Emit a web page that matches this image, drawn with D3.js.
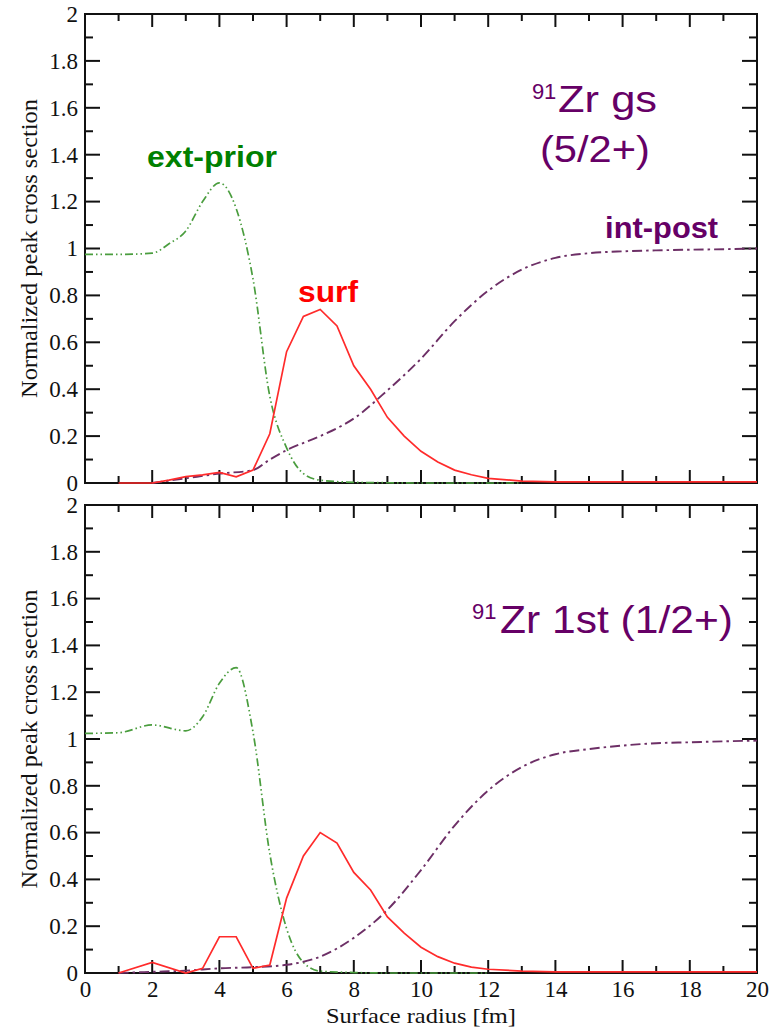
<!DOCTYPE html>
<html>
<head>
<meta charset="utf-8">
<script src="https://cdn.jsdelivr.net/npm/d3@7"></script>
<style>
  body { margin: 0; background: #fff; }
  .domain { display: none; }
  .axis text { font-family: "Liberation Serif", "Times New Roman", serif; font-size: 23px; fill: #111; }
  .serif { font-family: "Liberation Serif", "Times New Roman", serif; }
  .sans { font-family: "Liberation Sans", Arial, sans-serif; }
</style>
</head>
<body>
<div id="chart"></div>
<script>
// ---- data ----
var xMajorTicks = [0, 2, 4, 6, 8, 10, 12, 14, 16, 18, 20];
var xMinorTicks = [1, 3, 5, 7, 9, 11, 13, 15, 17, 19];
var yMajorTicks = [0, 0.2, 0.4, 0.6, 0.8, 1, 1.2, 1.4, 1.6, 1.8, 2];
var yMinorTicks = [0.1, 0.3, 0.5, 0.7, 0.9, 1.1, 1.3, 1.5, 1.7, 1.9];

// top panel: 91Zr gs (5/2+)
var extPriorTopR = [0, 1, 2, 2.5, 3, 3.5, 4, 4.5, 5, 5.5, 6, 6.5, 7, 8, 9, 10, 11, 12, 13];
var extPriorTopV = [0.975, 0.975, 0.98, 1.02, 1.075, 1.2, 1.28, 1.17, 0.87, 0.37, 0.15, 0.04, 0.012, 0.003, 0.001, 0, 0, 0, 0];
var surfTopR = [1, 2, 2.5, 3, 3.5, 4, 4.5, 5, 5.5, 6, 6.5, 7, 7.5, 8, 8.5, 9, 9.5, 10, 10.5, 11, 11.5, 12, 13, 14, 15, 16, 17, 18, 19, 20];
var surfTopV = [0, 0, 0.012, 0.027, 0.035, 0.045, 0.026, 0.055, 0.21, 0.56, 0.71, 0.74, 0.67, 0.5, 0.4, 0.28, 0.2, 0.135, 0.09, 0.055, 0.035, 0.02, 0.008, 0.005, 0.005, 0.005, 0.005, 0.005, 0.005, 0.005];
var intPostTopR = [2, 3, 4, 5, 5.5, 6, 7, 8, 9, 10, 11, 12, 13, 14, 15, 16, 17, 18, 19, 20];
var intPostTopV = [0, 0.02, 0.04, 0.055, 0.1, 0.14, 0.2, 0.275, 0.395, 0.53, 0.69, 0.82, 0.91, 0.96, 0.98, 0.988, 0.992, 0.995, 0.997, 1.0];

// bottom panel: 91Zr 1st (1/2+)
var extPriorBotR = [0, 1, 2, 3, 3.5, 4, 4.5, 5, 5.5, 6, 6.5, 7, 8, 9, 10, 11, 12];
var extPriorBotV = [1.024, 1.027, 1.06, 1.035, 1.095, 1.238, 1.305, 1.03, 0.51, 0.19, 0.045, 0.008, 0.002, 0, 0, 0, 0];
var surfBotR = [1, 2, 3, 3.5, 4, 4.5, 5, 5.5, 6, 6.5, 7, 7.5, 8, 8.5, 9, 9.5, 10, 10.5, 11, 11.5, 12, 13, 14, 15, 16, 17, 18, 19, 20];
var surfBotV = [0, 0.045, 0, 0.02, 0.155, 0.155, 0.02, 0.034, 0.32, 0.5, 0.6, 0.555, 0.43, 0.355, 0.24, 0.17, 0.11, 0.07, 0.042, 0.025, 0.016, 0.008, 0.005, 0.005, 0.005, 0.005, 0.005, 0.005, 0.005];
var intPostBotR = [1, 2, 3, 4, 5, 6, 7, 8, 9, 10, 11, 12, 13, 14, 15, 16, 17, 18, 19, 20];
var intPostBotV = [0, 0.005, 0.01, 0.02, 0.025, 0.035, 0.07, 0.15, 0.27, 0.44, 0.63, 0.78, 0.88, 0.935, 0.957, 0.972, 0.982, 0.986, 0.99, 0.993];

var green = "#4a9d3e", red = "#ff2b2b", purple = "#6d2f66";

var svg = d3.select("#chart").append("svg")
    .attr("width", 777)
    .attr("height", 1027);

var left = 85, right = 757;

function drawPanel(p) {
    var x = d3.scaleLinear().domain([0, 20]).range([left, right]);
    var y = d3.scaleLinear().domain([0, 2]).range([p.bottom, p.top]);
    var g = svg.append("g");

    // tick labels through d3 axes
    g.append("g").attr("class", "axis")
        .attr("transform", "translate(0," + p.bottom + ")")
        .call(d3.axisBottom(x).tickValues(p.xLabels ? xMajorTicks : []).tickSize(0).tickPadding(8)
            .tickFormat(d3.format("d")));
    g.append("g").attr("class", "axis")
        .attr("transform", "translate(" + left + ",0)")
        .call(d3.axisLeft(y).tickValues(yMajorTicks).tickSize(0).tickPadding(7)
            .tickFormat(function(d) { return String(+d.toFixed(1)); }));

    // inward tick marks on all four sides
    var ticks = g.append("g").attr("stroke", "#111").attr("stroke-width", 2);
    [[xMajorTicks, 13], [xMinorTicks, 7]].forEach(function(t) {
        ticks.selectAll(null).data(t[0]).enter().append("line")
            .attr("x1", x).attr("x2", x)
            .attr("y1", p.bottom).attr("y2", p.bottom - t[1]);
        ticks.selectAll(null).data(t[0]).enter().append("line")
            .attr("x1", x).attr("x2", x)
            .attr("y1", p.top).attr("y2", p.top + t[1]);
    });
    [[yMajorTicks, 15], [yMinorTicks, 8]].forEach(function(t) {
        ticks.selectAll(null).data(t[0]).enter().append("line")
            .attr("y1", y).attr("y2", y)
            .attr("x1", left).attr("x2", left + t[1]);
        ticks.selectAll(null).data(t[0]).enter().append("line")
            .attr("y1", y).attr("y2", y)
            .attr("x1", right).attr("x2", right - t[1]);
    });

    g.append("rect")
        .attr("x", left).attr("y", p.top)
        .attr("width", right - left).attr("height", p.bottom - p.top)
        .attr("fill", "none").attr("stroke", "#111").attr("stroke-width", 2);

    // curves
    p.series.forEach(function(s) {
        var line = d3.line()
            .x(function(d) { return x(d[0]); })
            .y(function(d) { return y(d[1]); })
            .curve(s.curve);
        g.append("path")
            .datum(d3.zip(s.r, s.v))
            .attr("d", line)
            .attr("fill", "none")
            .attr("stroke", s.color)
            .attr("stroke-width", s.width)
            .attr("stroke-dasharray", s.dash);
    });

    // y axis title
    g.append("text")
        .attr("class", "serif")
        .attr("transform", "translate(37," + (p.top + p.bottom) / 2 + ") rotate(-90)")
        .attr("text-anchor", "middle")
        .attr("font-size", 24)
        .attr("textLength", 299)
        .attr("lengthAdjust", "spacingAndGlyphs")
        .attr("fill", "#111")
        .text("Normalized peak cross section");

    // annotations in data units
    p.notes.forEach(function(n) {
        var t = g.append("text")
            .attr("class", "sans")
            .attr("x", x(n.r)).attr("y", y(n.v))
            .attr("font-size", n.size)
            .attr("font-weight", n.bold ? "bold" : "normal")
            .attr("fill", n.color)
            .text(n.text);
        if (n.len) t.attr("textLength", n.len).attr("lengthAdjust", "spacingAndGlyphs");
    });
}

var solid = null;
drawPanel({
    top: 14, bottom: 483, xLabels: false,
    series: [
        { r: extPriorTopR, v: extPriorTopV, color: green, width: 1.7, dash: "8,3,1.5,3,1.5,3", curve: d3.curveMonotoneX },
        { r: intPostTopR, v: intPostTopV, color: purple, width: 1.9, dash: "10,4,2.5,4", curve: d3.curveMonotoneX },
        { r: surfTopR, v: surfTopV, color: red, width: 1.7, dash: solid, curve: d3.curveLinear }
    ],
    notes: [
        { text: "ext-prior", r: 1.845, v: 1.349, size: 30, bold: true, color: "#008000", len: 130 },
        { text: "surf", r: 6.34, v: 0.773, size: 30, bold: true, color: "#ff0000", len: 60 },
        { text: "int-post", r: 15.48, v: 1.043, size: 30, bold: true, color: "#660066", len: 113 },
        { text: "91", r: 13.3, v: 1.636, size: 22, color: "#660066" },
        { text: "Zr gs", r: 14.08, v: 1.583, size: 37, color: "#660066", len: 99 },
        { text: "(5/2+)", r: 13.54, v: 1.369, size: 37, color: "#660066", len: 110 }
    ]
});

drawPanel({
    top: 505, bottom: 973, xLabels: true,
    series: [
        { r: extPriorBotR, v: extPriorBotV, color: green, width: 1.7, dash: "8,3,1.5,3,1.5,3", curve: d3.curveMonotoneX },
        { r: intPostBotR, v: intPostBotV, color: purple, width: 1.9, dash: "10,4,2.5,4", curve: d3.curveMonotoneX },
        { r: surfBotR, v: surfBotV, color: red, width: 1.7, dash: solid, curve: d3.curveLinear }
    ],
    notes: [
        { text: "91", r: 11.52, v: 1.513, size: 22, color: "#660066" },
        { text: "Zr 1st (1/2+)", r: 12.35, v: 1.452, size: 38, color: "#660066", len: 233 }
    ]
});

svg.append("text")
    .attr("class", "serif")
    .attr("x", (left + right) / 2).attr("y", 1023)
    .attr("text-anchor", "middle")
    .attr("font-size", 22)
    .attr("textLength", 190)
    .attr("lengthAdjust", "spacingAndGlyphs")
    .attr("fill", "#111")
    .text("Surface radius [fm]");
</script>
</body>
</html>
